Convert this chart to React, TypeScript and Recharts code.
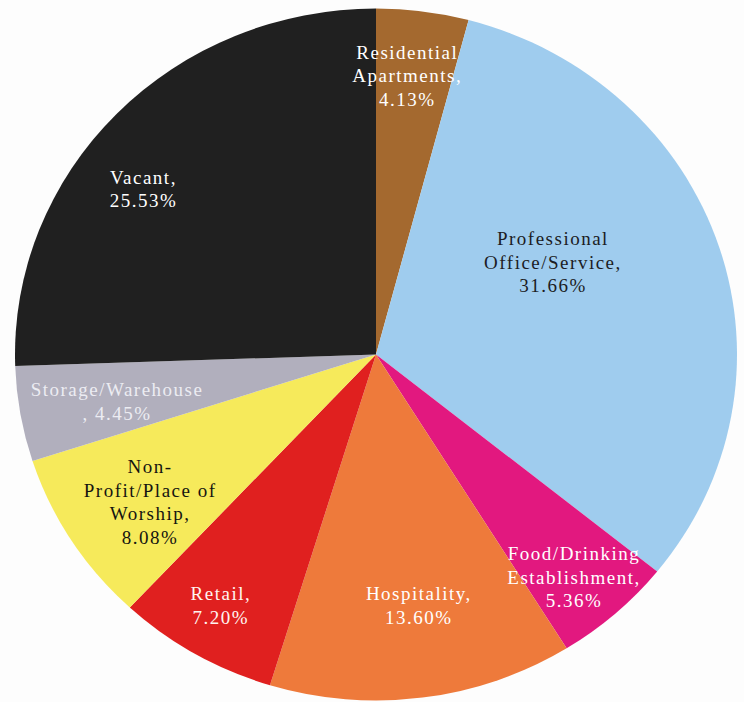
import React from "react";
import { PieChart, Pie, Cell } from "recharts";

const categories = [
  "Residential Apartments",
  "Professional Office/Service",
  "Food/Drinking Establishment",
  "Hospitality",
  "Retail",
  "Non-Profit/Place of Worship",
  "Storage/Warehouse",
  "Vacant",
];
const shares = [4.13, 31.66, 5.36, 13.6, 7.2, 8.08, 4.45, 25.53];
const labelNameLines = [
  ["Residential", "Apartments,"],
  ["Professional", "Office/Service,"],
  ["Food/Drinking", "Establishment,"],
  ["Hospitality,"],
  ["Retail,"],
  ["Non-", "Profit/Place of", "Worship,"],
  ["Storage/Warehouse"],
  ["Vacant,"],
];

// styling
const colors = ["#A4692F", "#9FCCEE", "#E2187F", "#EE7A3B", "#E0201F", "#F6EA5B", "#B1AFBD", "#202020"];
const textColors = ["#FFFFFF", "#1C1C24", "#FFFFFF", "#FFFFFF", "#FFF4F0", "#151510", "#ECECF2", "#FFFFFF"];
// label placement: radius fraction and angular offset (degrees, clockwise)
const labelRadius = [0.811, 0.558, 0.846, 0.735, 0.843, 0.757, 0.73, 0.802];
const labelAngleShift = [-1.3, -10.4, 1.1, -1.9, 0.6, -1.8, -0.8, -7.5];

const data = categories.map((name, i) => ({ name, value: shares[i] }));

const RX = 361;
const RY = 346;
const RAD = Math.PI / 180;

const EllipseSector = (props: any) => {
  const { cx, cy, startAngle, endAngle, fill } = props;
  const ry = (props.outerRadius * RY) / RX;
  const rx = props.outerRadius;
  const x1 = cx + rx * Math.cos(startAngle * RAD);
  const y1 = cy - ry * Math.sin(startAngle * RAD);
  const x2 = cx + rx * Math.cos(endAngle * RAD);
  const y2 = cy - ry * Math.sin(endAngle * RAD);
  const large = Math.abs(startAngle - endAngle) > 180 ? 1 : 0;
  const sweep = startAngle > endAngle ? 1 : 0;
  const d = `M ${cx} ${cy} L ${x1} ${y1} A ${rx} ${ry} 0 ${large} ${sweep} ${x2} ${y2} Z`;
  return <path d={d} fill={fill} stroke="none" />;
};

const renderLabel = (props: any) => {
  const { cx, cy, midAngle, outerRadius, index } = props;
  const rx = outerRadius;
  const ry = (outerRadius * RY) / RX;
  const f = labelRadius[index];
  const a = (midAngle - labelAngleShift[index]) * RAD;
  const x = cx + rx * f * Math.cos(a);
  const y = cy - ry * f * Math.sin(a);
  const nameLines = labelNameLines[index];
  const last = nameLines[nameLines.length - 1];
  const valueText = shares[index].toFixed(2) + "%";
  const lines = [...nameLines, last.endsWith(",") ? valueText : ", " + valueText];
  const L = 23.5;
  const n = lines.length;
  return (
    <text
      key={`lbl-${index}`}
      x={x}
      y={y}
      textAnchor="middle"
      fill={textColors[index]}
      fontFamily="'Liberation Serif', 'Times New Roman', serif"
      fontSize={19}
      style={{ letterSpacing: "1.5px" }}
    >
      {lines.map((t, i) => (
        <tspan key={i} x={x} y={y + (i - (n - 1) / 2) * L + 6.5}>
          {t}
        </tspan>
      ))}
    </text>
  );
};

export default function App() {
  return (
    <div style={{ position: "absolute", left: 0, top: 0, width: 744, height: 702, background: "#FDFDFD" }}>
      <PieChart width={744} height={702} margin={{ top: 0, right: 0, bottom: 0, left: 0 }}>
        <Pie
          data={data}
          dataKey="value"
          nameKey="name"
          cx={376}
          cy={354.5}
          outerRadius={RX}
          startAngle={90}
          endAngle={-270}
          stroke="none"
          isAnimationActive={false}
          shape={EllipseSector}
          activeShape={EllipseSector}
          inactiveShape={EllipseSector}
          label={renderLabel}
          labelLine={false}
        >
          {data.map((d, i) => (
            <Cell key={d.name} fill={colors[i]} />
          ))}
        </Pie>
      </PieChart>
    </div>
  );
}
